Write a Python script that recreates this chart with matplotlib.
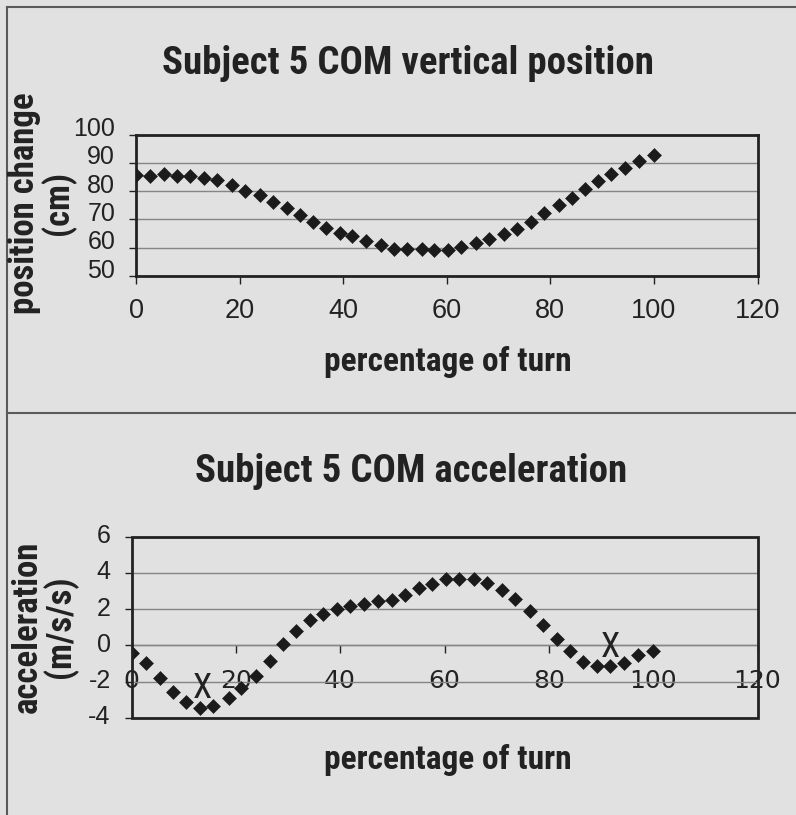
import matplotlib
matplotlib.use("Agg")
import matplotlib.pyplot as plt
from matplotlib.transforms import ScaledTranslation
from matplotlib.patches import Rectangle
from matplotlib.lines import Line2D

plt.rcParams["axes.unicode_minus"] = False

# ---------------- data ----------------
turn_pct = [0, 2.7, 5.4, 8.0, 10.5, 13.2, 15.7, 18.6, 21.0, 23.9, 26.5, 29.1, 31.6,
            34.2, 36.7, 39.3, 41.8, 44.5, 47.3, 49.9, 52.4, 55.2, 57.6, 60.3, 62.8,
            65.7, 68.1, 71.1, 73.6, 76.3, 78.8, 81.6, 84.1, 86.6, 89.2, 91.8, 94.5,
            97.1, 100]
com_position_cm = [85.6, 85.2, 86.2, 85.3, 85.3, 84.6, 83.8, 82.0, 80.0, 78.5, 76.2,
                   74.0, 71.5, 69.1, 66.8, 65.2, 64.1, 62.3, 60.9, 59.7, 59.4, 59.4,
                   59.2, 59.2, 60.1, 61.5, 63.0, 64.7, 66.5, 69.1, 72.1, 75.0, 77.6,
                   80.6, 83.5, 85.9, 88.1, 90.5, 92.9]
com_accel = [-0.44, -0.95, -1.81, -2.56, -3.10, -3.47, -3.32, -2.92, -2.35, -1.68,
             -0.86, 0.09, 0.78, 1.42, 1.75, 2.01, 2.19, 2.28, 2.43, 2.52, 2.79, 3.16,
             3.40, 3.65, 3.65, 3.65, 3.43, 3.07, 2.57, 1.92, 1.10, 0.38, -0.31, -0.91,
             -1.13, -1.13, -0.99, -0.53, -0.31]
mark_pct = [13.5, 91.8]
mark_accel = [-2.4, -0.13]
mark_label = "X"

title_top = "Subject 5 COM vertical position"
title_bottom = "Subject 5 COM acceleration"
xlabel_text = "percentage of turn"
ylabel_top = "position change\n(cm)"
ylabel_bottom = "acceleration\n(m/s/s)"
x_ticks = [0, 20, 40, 60, 80, 100, 120]
y_ticks_top = [50, 60, 70, 80, 90, 100]
y_ticks_bottom = [-4, -2, 0, 2, 4, 6]

# ---------------- style ----------------
W, H = 796, 815
BG = "#e1e1e1"
INK = "#222222"
GRID = "#858585"
NARROW = ["Roboto Condensed", "Archivo Narrow", "Liberation Sans"]
REG = "Liberation Sans"

fig = plt.figure(figsize=(W / 100, H / 100), dpi=100, facecolor=BG)


def px_axes(l, t, r, b):
    return fig.add_axes([l / W, 1 - b / H, (r - l) / W, (b - t) / H])


ax1 = px_axes(136, 134.5, 757.5, 276)
ax2 = px_axes(131.5, 536.5, 757.5, 718)

for ax in (ax1, ax2):
    ax.set_facecolor("none")
    ax.set_xlim(0, 120)
    ax.set_xticks(x_ticks)
    ax.yaxis.grid(True, color=GRID, lw=1.0)
    ax.set_axisbelow(True)
    ax.tick_params(axis="both", direction="out", color=INK, labelcolor=INK,
                   labelsize=18, width=1.0)
    ax.tick_params(axis="x", length=6, pad=11)
    ax.tick_params(axis="y", length=5, pad=10)
    for lab in ax.get_xticklabels() + ax.get_yticklabels():
        lab.set_fontfamily(REG)
ax1.tick_params(axis="x", labelsize=19.5, pad=10)

# top chart
ax1.set_ylim(50, 100)
ax1.set_yticks(y_ticks_top)
for s in ax1.spines.values():
    s.set_color(INK)
    s.set_linewidth(2)
ax1.plot(turn_pct, com_position_cm, linestyle="none", marker="D", ms=6.8,
         color="#1b1b1b", mew=0.4, zorder=3)
off = ScaledTranslation(0, 8 / 100, fig.dpi_scale_trans)
for lab in ax1.get_yticklabels():
    lab.set_transform(lab.get_transform() + off)

# bottom chart
ax2.set_ylim(-4, 6)
ax2.set_yticks(y_ticks_bottom)
for k, s in ax2.spines.items():
    s.set_visible(False)
ax2.spines["bottom"].set_visible(True)
ax2.spines["bottom"].set_position(("data", 0))
ax2.spines["bottom"].set_color(GRID)
ax2.spines["bottom"].set_linewidth(1.0)
ax2.add_patch(Rectangle((0, 0), 1, 1, transform=ax2.transAxes, fill=False,
                        ec=INK, lw=2, clip_on=False, zorder=4))
ax2.plot(turn_pct, com_accel, linestyle="none", marker="D", ms=6.8,
         color="#1b1b1b", mew=0.4, zorder=3)
off2 = ScaledTranslation(0, 3 / 100, fig.dpi_scale_trans)
for lab in ax2.get_yticklabels():
    lab.set_transform(lab.get_transform() + off2)
for xm, ym in zip(mark_pct, mark_accel):
    ax2.text(xm, ym, mark_label, ha="center", va="center", fontsize=25,
             family=NARROW, color=INK, zorder=5)

# titles and labels
bold = dict(fontweight="bold", family=NARROW, color=INK)
fig.text(408 / W, 1 - 63 / H, title_top, ha="center", va="center",
         fontsize=28, **bold)
fig.text(411 / W, 1 - 471 / H, title_bottom, ha="center", va="center",
         fontsize=28, **bold)
fig.text(448 / W, 1 - 362 / H, xlabel_text, ha="center", va="center",
         fontsize=24, **bold)
fig.text(448 / W, 1 - 760 / H, xlabel_text, ha="center", va="center",
         fontsize=24, **bold)
fig.text(42 / W, 1 - 203 / H, ylabel_top, ha="center", va="center", rotation=90,
         fontsize=25, linespacing=0.95, multialignment="center", **bold)
fig.text(44 / W, 1 - 627 / H, ylabel_bottom, ha="center", va="center", rotation=90,
         fontsize=25, linespacing=0.95, multialignment="center", **bold)

# frame lines of the scanned page
frame = dict(transform=fig.transFigure, color="#5a5a5a", lw=1.5)
fig.add_artist(Line2D([7 / W, 7 / W], [0, 1 - 6.5 / H], **frame))
fig.add_artist(Line2D([7 / W, 1], [1 - 6.5 / H, 1 - 6.5 / H], **frame))
fig.add_artist(Line2D([7 / W, 1], [1 - 413 / H, 1 - 413 / H], **frame))

fig.savefig("out.png", dpi=100, facecolor=BG)
